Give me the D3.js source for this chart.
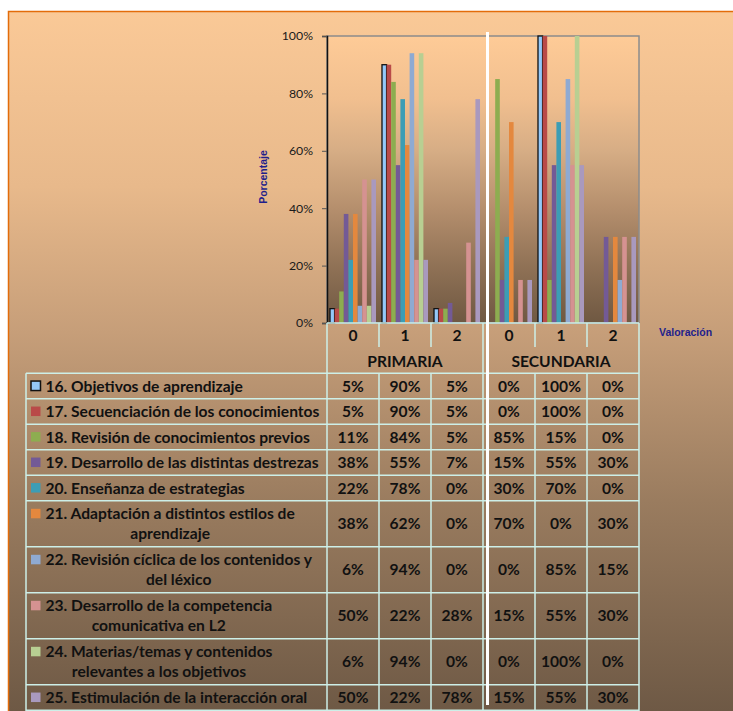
<!DOCTYPE html>
<html>
<head>
<meta charset="utf-8">
<script src="https://cdn.jsdelivr.net/npm/d3@7"></script>
<style>
  html, body { margin: 0; padding: 0; background: #fff; }
  svg { display: block; }
</style>
</head>
<body>
<svg id="chart"></svg>
<script>
// data
const categories = ['0', '1', '2', '0', '1', '2'];
const groups = ['PRIMARIA', 'SECUNDARIA'];
const seriesLabels = [
  '16. Objetivos de aprendizaje',
  '17. Secuenciación de los conocimientos',
  '18. Revisión de conocimientos previos',
  '19. Desarrollo de las distintas destrezas',
  '20. Enseñanza de estrategias',
  '21. Adaptación a distintos estilos de\naprendizaje',
  '22. Revisión cíclica de los contenidos y\ndel léxico',
  '23. Desarrollo de la competencia\ncomunicativa en L2',
  '24. Materias/temas y contenidos\nrelevantes a los objetivos',
  '25. Estimulación de la interacción oral'
];
// valoracion 0,1,2 for each series
const primaria = [
  [5, 90, 5], [5, 90, 5], [11, 84, 5], [38, 55, 7], [22, 78, 0],
  [38, 62, 0], [6, 94, 0], [50, 22, 28], [6, 94, 0], [50, 22, 78]
];
const secundaria = [
  [0, 100, 0], [0, 100, 0], [85, 15, 0], [15, 55, 30], [30, 70, 0],
  [70, 0, 30], [0, 85, 15], [15, 55, 30], [0, 100, 0], [15, 55, 30]
];
const yTicks = [0, 20, 40, 60, 80, 100];

const palette = ['#94C8F8', '#B94A48', '#8DAD50', '#735A96', '#3C9DB5',
  '#E4883E', '#8FAAD2', '#D59291', '#B8CF92', '#A999BE'];

const W = 733, H = 711;
const plot = { left: 327, right: 639, top: 36, bottom: 323 };
const font = 'Lato, "Open Sans", sans-serif';
const tfs = 15.6;

const svg = d3.select('#chart').attr('width', W).attr('height', H);
const defs = svg.append('defs');

function grad(id, y1, y2, stops) {
  const g = defs.append('linearGradient').attr('id', id)
    .attr('gradientUnits', 'userSpaceOnUse')
    .attr('x1', 0).attr('x2', 0).attr('y1', y1).attr('y2', y2);
  stops.forEach(s => g.append('stop').attr('offset', s[0]).attr('stop-color', s[1]));
}
grad('bgGrad', 11, 711, [[0, '#FAC997'], [0.25, '#E8B98B'], [0.46, '#C69E79'], [0.7, '#9A7C5F'], [1, '#6E5945']]);
grad('plotGrad', plot.top, plot.bottom, [[0, '#FECB97'], [0.22, '#F1BF8F'], [0.4, '#D6AD85'], [0.6, '#B58F6D'], [0.8, '#907256'], [1, '#6F5842']]);

// chart area
svg.append('rect').attr('x', 8.5).attr('y', 11.5).attr('width', W + 10).attr('height', H + 10)
  .attr('fill', 'url(#bgGrad)').attr('stroke', '#E36C0A').attr('stroke-width', 1.5);

// plot area
svg.append('rect').attr('x', plot.left).attr('y', plot.top)
  .attr('width', plot.right - plot.left).attr('height', plot.bottom - plot.top)
  .attr('fill', 'url(#plotGrad)').attr('stroke', '#8C8C8C').attr('stroke-width', 1.5);

const x = d3.scaleBand().domain(d3.range(categories.length)).range([plot.left, plot.right]);
const xs = d3.scaleBand().domain(d3.range(seriesLabels.length)).range([0, x.bandwidth()])
  .paddingInner(0).paddingOuter(0.65);
const y = d3.scaleLinear().domain([0, 100]).range([plot.bottom, plot.top]);

// bars
const barData = [];
seriesLabels.forEach((s, i) => {
  categories.forEach((c, j) => {
    const v = j < 3 ? primaria[i][j] : secundaria[i][j - 3];
    barData.push({ s: i, c: j, v: v });
  });
});
svg.append('g').selectAll('rect').data(barData.filter(d => d.v > 0)).join('rect')
  .attr('x', d => x(d.c) + xs(d.s))
  .attr('y', d => y(d.v))
  .attr('width', xs.bandwidth())
  .attr('height', d => y(0) - y(d.v))
  .attr('fill', d => palette[d.s])
  .attr('stroke', d => d.s === 0 ? '#111' : 'none')
  .attr('stroke-width', 1.3);

// y axis
const yAxis = svg.append('g').attr('transform', `translate(${plot.left},0)`)
  .call(d3.axisLeft(y).tickValues(yTicks).tickFormat(d => d + '%').tickSize(5).tickPadding(9));
yAxis.select('.domain').attr('stroke', '#111').attr('stroke-width', 1.5);
yAxis.selectAll('.tick line').attr('stroke', '#555');
yAxis.selectAll('text').attr('font-family', font).attr('font-size', 12.3).attr('fill', '#1a1a1a');

svg.append('text').attr('transform', 'translate(267,177) rotate(-90)')
  .attr('text-anchor', 'middle').attr('font-family', 'Arial, "Liberation Sans", sans-serif')
  .attr('font-weight', 'bold').attr('font-size', 10.5).attr('fill', '#1F1F8C').text('Porcentaje');
svg.append('text').attr('x', 659).attr('y', 336)
  .attr('font-family', 'Arial, "Liberation Sans", sans-serif')
  .attr('font-weight', 'bold').attr('font-size', 10.5).attr('fill', '#1F1F8C').text('Valoración');

// data table
const lineCol = '#CDEFE8';
const tableTop = 373.3, tableLeft = 26;
const rowH = seriesLabels.map(s => s.includes('\n') ? 46 : 25.5);
const rowY = [];
let acc = tableTop;
rowH.forEach(h => { rowY.push(acc); acc += h; });
const tableBottom = acc;

const tbl = svg.append('g');
// category labels
tbl.selectAll('text.cat').data(categories).join('text').attr('class', 'cat')
  .attr('x', (d, i) => x(i) + x.bandwidth() / 2).attr('y', 341)
  .attr('text-anchor', 'middle').attr('font-family', font).attr('font-weight', 'bold')
  .attr('font-size', tfs).attr('fill', '#111').text(d => d);
tbl.selectAll('text.grp').data(groups).join('text').attr('class', 'grp')
  .attr('x', (d, i) => x(i * 3) + x.bandwidth() * 1.5).attr('y', 366.5)
  .attr('text-anchor', 'middle').attr('font-family', font).attr('font-weight', 'bold')
  .attr('font-size', tfs).attr('fill', '#111').text(d => d);

// grid lines
const hLines = [tableTop].concat(rowY.slice(1)).concat([tableBottom]);
tbl.append('line').attr('x1', plot.left).attr('x2', plot.right).attr('y1', plot.bottom).attr('y2', plot.bottom)
  .attr('stroke', lineCol).attr('stroke-width', 1.5);
tbl.selectAll('line.h').data(hLines).join('line').attr('class', 'h')
  .attr('x1', tableLeft).attr('x2', plot.right).attr('y1', d => d).attr('y2', d => d)
  .attr('stroke', lineCol).attr('stroke-width', 1.5);
d3.range(categories.length + 1).forEach(i => {
  const xx = i < categories.length ? x(i) : plot.right;
  const full = i % 3 === 0;
  tbl.append('line').attr('x1', xx).attr('x2', xx)
    .attr('y1', plot.bottom).attr('y2', full ? H : 347)
    .attr('stroke', lineCol).attr('stroke-width', 1.5);
  if (!full) {
    tbl.append('line').attr('x1', xx).attr('x2', xx).attr('y1', tableTop).attr('y2', H)
      .attr('stroke', lineCol).attr('stroke-width', 1.5);
  }
});
tbl.append('line').attr('x1', tableLeft).attr('x2', tableLeft).attr('y1', tableTop).attr('y2', H)
  .attr('stroke', lineCol).attr('stroke-width', 1.5);

// legend keys and labels
seriesLabels.forEach((s, i) => {
  const lines = s.split('\n');
  const cy = rowY[i] + rowH[i] / 2;
  const firstY = cy - (lines.length - 1) * 10;
  tbl.append('rect').attr('x', 31).attr('y', firstY - 5).attr('width', 9.5).attr('height', 9.5)
    .attr('fill', palette[i]).attr('stroke', i === 0 ? '#111' : 'none').attr('stroke-width', 1.5);
  const t0 = tbl.append('text').attr('x', 45.5).attr('y', firstY + 5.5)
    .attr('font-family', font).attr('font-weight', 'bold').attr('font-size', tfs)
    .attr('fill', '#111').text(lines[0]);
  const w0 = t0.node().getComputedTextLength();
  lines.slice(1).forEach((l, k) => {
    tbl.append('text').attr('x', 45.5 + w0 / 2).attr('y', firstY + 5.5 + 20 * (k + 1))
      .attr('text-anchor', 'middle')
      .attr('font-family', font).attr('font-weight', 'bold').attr('font-size', tfs)
      .attr('fill', '#111').text(l);
  });
  // values
  categories.forEach((c, j) => {
    const v = j < 3 ? primaria[i][j] : secundaria[i][j - 3];
    tbl.append('text').attr('x', x(j) + x.bandwidth() / 2).attr('y', cy + 5.5)
      .attr('text-anchor', 'middle').attr('font-family', font).attr('font-weight', 'bold')
      .attr('font-size', tfs).attr('fill', '#111').text(v + '%');
  });
});

// white separator
svg.append('line').attr('x1', 487.5).attr('x2', 487.5).attr('y1', 32).attr('y2', 705)
  .attr('stroke', '#fff').attr('stroke-width', 3);
</script>
</body>
</html>
